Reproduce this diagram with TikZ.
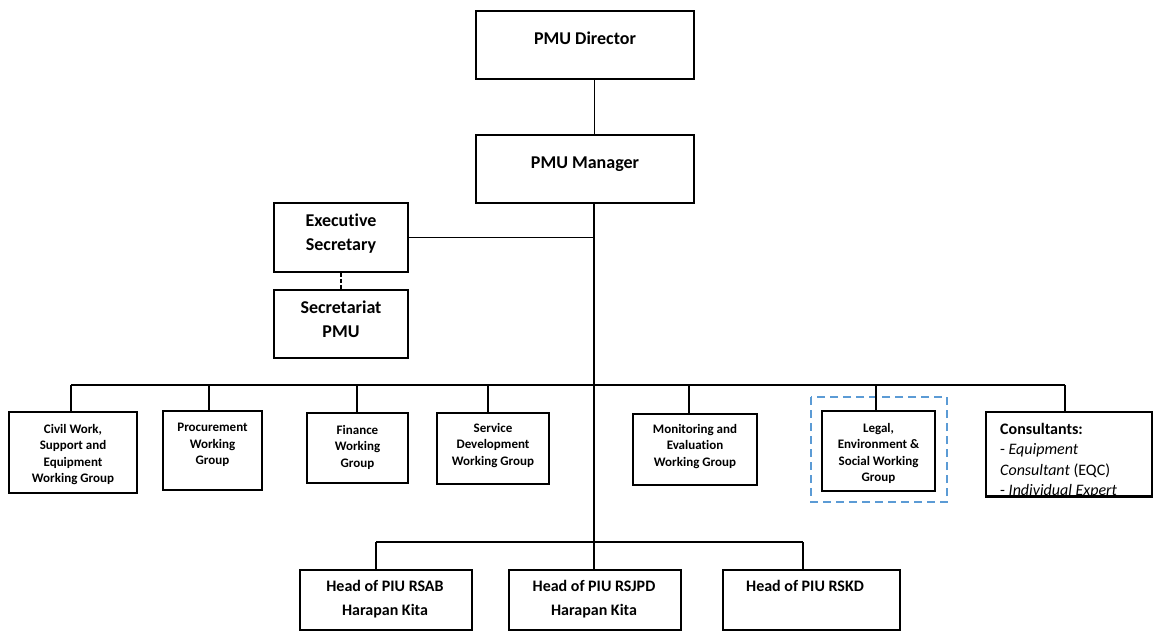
\documentclass[tikz,border=0pt]{standalone}
\usepackage{fontspec}
\setmainfont{Carlito}[Ligatures={NoCommon,NoRare,NoContextual}]
\definecolor{blueD}{HTML}{5B9BD5}
\begin{document}
\begin{tikzpicture}[x=1pt,y=-1pt,
  box/.style={draw=black,line width=1.6pt,rectangle,inner sep=0pt},
  conn/.style={line width=1.4pt},
  big/.style={font=\bfseries\fontsize{18}{24}\selectfont,align=center,inner sep=0pt},
  wg/.style={font=\bfseries\fontsize{13}{16.5}\selectfont,align=center,inner sep=0pt,anchor=north},
  piu/.style={font=\bfseries\fontsize{16}{24}\selectfont,align=center,inner sep=0pt,anchor=north}]
\useasboundingbox (0,0) rectangle (1154,631);

% top boxes
\node[box,minimum width=218pt,minimum height=68pt] (dir) at (585,45) {};
\node[big,anchor=base] (dirT) at (585,45) {PMU Director};
\node[box,minimum width=218pt,minimum height=68pt] (mgr) at (585,169) {};
\node[big,anchor=base] (mgrT) at (585,169) {PMU Manager};

\node[box,minimum width=134pt,minimum height=69pt] (exec) at (341,237.5) {};
\node[big,anchor=north] (execT) at (341,214) {Executive\\Secretary};
\node[box,minimum width=134pt,minimum height=68pt] (sec) at (341,324) {};
\node[big,anchor=north] (secT) at (341,301) {Secretariat\\PMU};

% working groups
\node[box,minimum width=128pt,minimum height=81pt] (civ) at (73,452.5) {};
\node[wg] (civT) at (73,424) {Civil Work,\\Support and\\Equipment\\Working Group};
\node[box,minimum width=99pt,minimum height=79pt] (proc) at (212.5,450.5) {};
\node[wg] (procT) at (212.5,423) {Procurement\\Working\\Group};
\node[box,minimum width=101pt,minimum height=70pt] (fin) at (357.5,448) {};
\node[wg] (finT) at (357.5,425) {Finance\\Working\\Group};
\node[box,minimum width=112pt,minimum height=71pt] (svc) at (493,448.5) {};
\node[wg] (svcT) at (493,423) {Service\\Development\\Working Group};
\node[box,minimum width=124pt,minimum height=71pt] (mon) at (695,449.5) {};
\node[wg] (monT) at (695,424) {Monitoring and\\Evaluation\\Working Group};
\node[box,minimum width=113pt,minimum height=80pt] (leg) at (878.5,451) {};
\node[wg] (legT) at (878.5,423) {Legal,\\Environment \&\\Social Working\\Group};
\draw[draw=blueD,line width=2pt,dash pattern=on 8pt off 5pt] (811,397) rectangle (947,502);

% consultants
\node[box,minimum width=166pt,minimum height=84pt] (con) at (1069,454) {};
\begin{scope}
\clip (con.north west) rectangle (con.south east);
\node[anchor=north west,align=left,inner sep=0pt,font=\fontsize{16}{20.3}\selectfont] (conT) at (1000,423)
  {\textbf{Consultants:}\\- \textit{Equipment}\\\textit{Consultant} (EQC)\\- \textit{Individual Expert}};
\end{scope}
\draw[line width=1.6pt] (con.south west) -- (con.south east);

% PIU boxes
\node[box,minimum width=172pt,minimum height=60pt] (rsab) at (386,600) {};
\node[piu] (rsabT) at (385,580) {Head of PIU RSAB\\Harapan Kita};
\node[box,minimum width=172pt,minimum height=60pt] (rsjpd) at (595,600) {};
\node[piu] (rsjpdT) at (594,580) {Head of PIU RSJPD\\Harapan Kita};
\node[box,minimum width=177pt,minimum height=60pt] (rskd) at (811.5,600) {};
\node[piu] (rskdT) at (805,580) {Head of PIU RSKD};

% connectors
\coordinate (trunk) at (594,542);
\draw[line width=0.9pt] (dir.south -| trunk) -- (mgr.north -| trunk);
\draw[conn] (mgr.south -| trunk) -- (trunk);
\draw[line width=1.2pt] (exec.east) -- (exec.east -| trunk);
\draw[line width=1.5pt,dash pattern=on 4pt off 2pt] (exec.south) -- (sec.north);

\coordinate (busL) at (71,385);
\coordinate (busR) at (1065,385);
\coordinate (dProc) at (209,385);
\coordinate (dFin) at (357,385);
\coordinate (dSvc) at (488,385);
\coordinate (dMon) at (689,385);
\coordinate (dLeg) at (876,385);
\draw[conn] (busL) -- (busR);
\draw[conn] (busL) -- (busL |- civ.north);
\draw[conn] (dProc) -- (dProc |- proc.north);
\draw[conn] (dFin) -- (dFin |- fin.north);
\draw[conn] (dSvc) -- (dSvc |- svc.north);
\draw[conn] (dMon) -- (dMon |- mon.north);
\draw[conn] (dLeg) -- (dLeg |- leg.north);
\draw[conn] (busR) -- (busR |- con.north);

\coordinate (bbL) at (376,542);
\coordinate (bbR) at (803,542);
\draw[conn] (bbL) -- (bbR);
\draw[conn] (bbL) -- (bbL |- rsab.north);
\draw[conn] (trunk) -- (trunk |- rsjpd.north);
\draw[conn] (bbR) -- (bbR |- rskd.north);
\end{tikzpicture}
\end{document}
